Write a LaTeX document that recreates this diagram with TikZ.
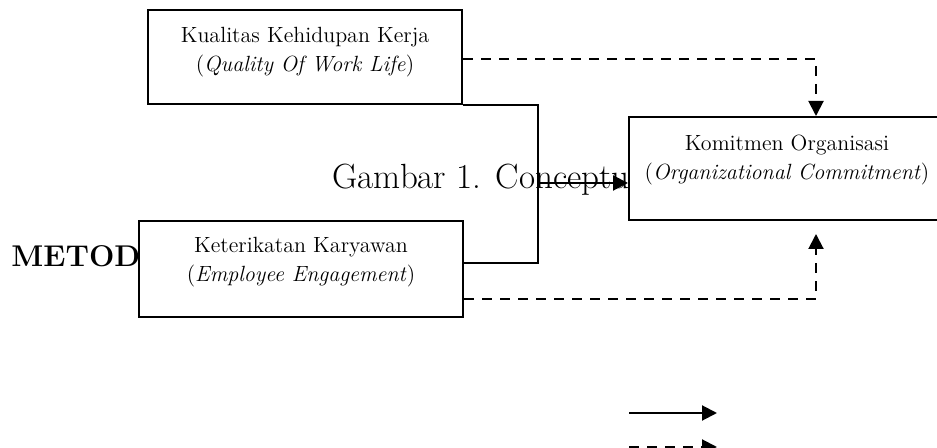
\documentclass[tikz,border=0pt]{standalone}
\usetikzlibrary{arrows.meta}
\tikzset{
  box/.style={draw, line width=1pt, fill=white, align=center, inner sep=0pt,
              font=\fontsize{11}{14.5}\selectfont},
  arr/.style={-{Triangle[length=7.5pt,width=7.5pt]}, line width=1pt},
  darr/.style={arr, dash pattern=on 5pt off 4pt},
  link/.style={line width=1pt},
  big/.style={anchor=base west, inner sep=0pt, font=\fontsize{17.5}{21}\selectfont},
  head/.style={anchor=base west, inner sep=0pt, font=\fontsize{15}{18}\selectfont\bfseries}
}

\begin{document}
\begin{tikzpicture}[x=0.5pt, y=-0.5pt]
  \clip (0,0) rectangle (937,448);
  % text of the page behind the figure
  \node[big]  (cap) at (332,189) {Gambar 1. Conceptua};
  \node[head] (met) at (11,267)  {METODE};
  % variables
  \node[box, minimum width=157pt, minimum height=47pt, text depth=8pt]
       (qwl) at (305,57) {Kualitas Kehidupan Kerja\\(\textit{Quality Of Work Life})};
  \node[box, minimum width=162pt, minimum height=48pt, text depth=10pt]
       (ee) at (301,269) {Keterikatan Karyawan\\(\textit{Employee Engagement})};
  \node[box, minimum width=158pt, minimum height=51.5pt, text depth=11pt]
       (ko) at (787,168.5) {Komitmen Organisasi\\(\textit{Organizational Commitment})};
  % simultaneous path
  \coordinate (jn) at (538,183);
  \draw[link] (qwl.south east) -| (jn) |- ([yshift=3pt]ee.east);
  \draw[arr] (jn) -- (jn -| ko.west);
  % partial paths
  \draw[darr] ([yshift=-1pt]qwl.east) -| ([xshift=14.5pt]ko.north);
  \draw[darr, shorten >=6.5pt] ([yshift=-15pt]ee.east) -| ([xshift=14.5pt]ko.south);
  % legend
  \coordinate (s1) at (629,413);
  \coordinate (d1) at (629,447);
  \draw[arr]  (s1) -- ++(88,0);
  \draw[darr] (d1) -- ++(88,0);
\end{tikzpicture}
\end{document}
